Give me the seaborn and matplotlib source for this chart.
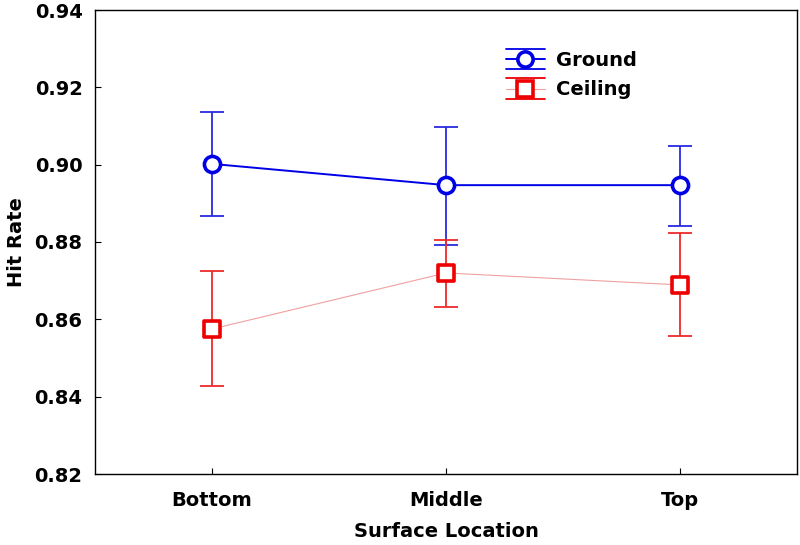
import matplotlib
matplotlib.use("Agg")
import matplotlib.pyplot as plt
from matplotlib.lines import Line2D
from matplotlib.legend_handler import HandlerBase
import seaborn as sns
import pandas as pd

# ---- data ----
locations = ["Bottom", "Middle", "Top"]
ground_mean = [0.9002, 0.8947, 0.8947]
ground_low = [0.8867, 0.8792, 0.8841]
ground_high = [0.9137, 0.9098, 0.9047]
ceiling_mean = [0.8575, 0.8720, 0.8689]
ceiling_low = [0.8427, 0.8632, 0.8557]
ceiling_high = [0.8725, 0.8805, 0.8823]
series_names = ["Ground", "Ceiling"]
y_ticks = [0.82, 0.84, 0.86, 0.88, 0.90, 0.92, 0.94]

sns.set_theme(style="white")
plt.rcParams["font.family"] = ["DejaVu Sans"]
plt.rcParams["font.weight"] = "bold"
plt.rcParams["text.color"] = "black"
plt.rcParams["axes.labelcolor"] = "black"
plt.rcParams["xtick.color"] = "black"
plt.rcParams["ytick.color"] = "black"

fig = plt.figure(figsize=(8, 5.45), dpi=100)
ax = fig.add_axes([95 / 800, 71 / 545, 702 / 800, 464 / 545])

blue = "#0000e6"
blue_err = "#2a2ae0"
red = "#ee0000"
red_err = "#ee2a2a"
red_line = "#f0a0a0"

df_g = pd.DataFrame({"loc": locations, "rate": ground_mean})
df_c = pd.DataFrame({"loc": locations, "rate": ceiling_mean})

# connecting lines
sns.lineplot(data=df_g, x="loc", y="rate", ax=ax, color=blue, lw=1.4, sort=False, zorder=2)
sns.lineplot(data=df_c, x="loc", y="rate", ax=ax, color=red_line, lw=0.8, sort=False, zorder=2)

# error bars
for mean, lo, hi, col in [(ground_mean, ground_low, ground_high, blue_err),
                          (ceiling_mean, ceiling_low, ceiling_high, red_err)]:
    yerr = [[m - l for m, l in zip(mean, lo)], [h - m for m, h in zip(mean, hi)]]
    ax.errorbar(locations, mean, yerr=yerr, fmt="none", ecolor=col,
                elinewidth=1.3, capsize=8.5, capthick=1.3, zorder=3)

# markers
sns.scatterplot(data=df_g, x="loc", y="rate", ax=ax, marker="o", s=135,
                facecolor="white", edgecolor=blue, linewidth=2.6, zorder=5)
sns.scatterplot(data=df_c, x="loc", y="rate", ax=ax, marker="s", s=135,
                facecolor="white", edgecolor=red, linewidth=2.6, zorder=5)

ax.set_xlim(-0.5, 2.5)
ax.set_ylim(0.82, 0.94)
ax.set_yticks(y_ticks)
ax.set_yticklabels([f"{v:.2f}" for v in y_ticks], fontsize=14, fontweight="bold")
ax.set_xticks(range(len(locations)))
ax.set_xticklabels(locations, fontsize=14, fontweight="bold")
ax.tick_params(direction="in", length=4, width=0.8, colors="black", pad=9,
               left=True, bottom=True)
ax.tick_params(axis="x", pad=12)
for s in ax.spines.values():
    s.set_visible(True)
    s.set_color("black")
    s.set_linewidth(1.0)
ax.set_xlabel("Surface Location", fontsize=14, fontweight="bold", labelpad=9, color="black")
ax.set_ylabel("Hit Rate", fontsize=14, fontweight="bold", labelpad=6, color="black")


class ErrHandler(HandlerBase):
    def __init__(self, color, linecolor, lw, marker):
        super().__init__()
        self.color = color
        self.linecolor = linecolor
        self.lw = lw
        self.marker = marker

    def create_artists(self, legend, orig_handle, xdescent, ydescent, width, height, fontsize, trans):
        cy = height / 2 - ydescent
        x0, x1 = -xdescent, -xdescent + width
        d = height * 0.75
        arts = [
            Line2D([x0, x1], [cy + d, cy + d], color=self.color, lw=1.3),
            Line2D([x0, x1], [cy - d, cy - d], color=self.color, lw=1.3),
            Line2D([x0, x1], [cy, cy], color=self.linecolor, lw=self.lw),
            Line2D([(x0 + x1) / 2], [cy], marker=self.marker, markersize=11,
                   markerfacecolor="white", markeredgecolor=self.color, markeredgewidth=2.6, lw=0),
        ]
        for a in arts:
            a.set_transform(trans)
        return arts


h_g = Line2D([], [])
h_c = Line2D([], [])
leg = ax.legend([h_g, h_c], series_names, loc="upper left", bbox_to_anchor=(0.56, 0.95),
                frameon=False, prop={"weight": "bold", "size": 14},
                handlelength=2.0, handletextpad=0.6, labelspacing=0.55,
                handler_map={h_g: ErrHandler(blue, blue, 1.4, "o"),
                             h_c: ErrHandler(red, red_line, 0.8, "s")})
for t in leg.get_texts():
    t.set_color("black")

fig.savefig("out.png", dpi=100)
